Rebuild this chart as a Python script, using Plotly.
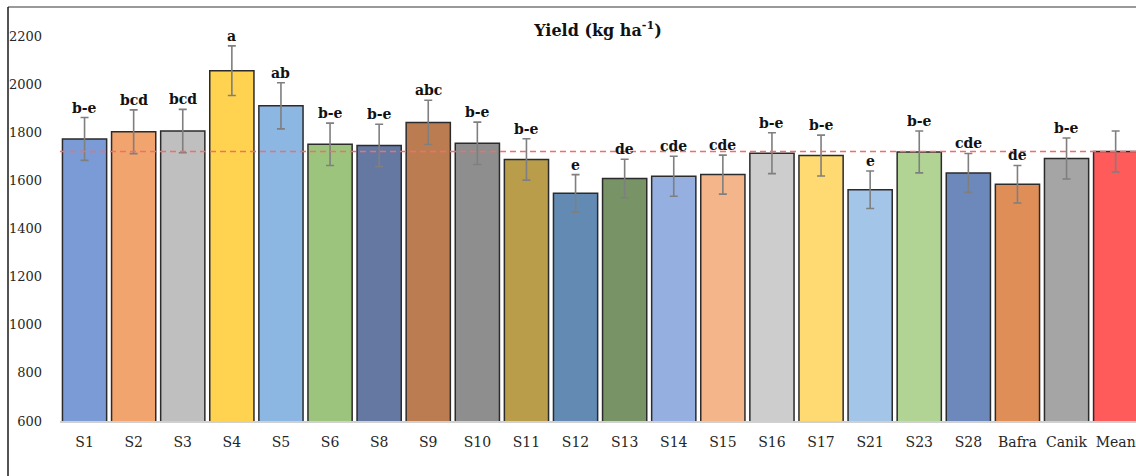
import plotly.graph_objects as go

# Genotype yields (kg/ha) with standard errors and significance letters
categories = ["S1", "S2", "S3", "S4", "S5", "S6", "S8", "S9", "S10", "S11", "S12",
              "S13", "S14", "S15", "S16", "S17", "S21", "S23", "S28", "Bafra", "Canik", "Mean"]
yield_values = [1772, 1802, 1805, 2056, 1910, 1750, 1745, 1841, 1754, 1687, 1546,
                1608, 1617, 1624, 1713, 1703, 1561, 1718, 1631, 1584, 1691, 1720]
yield_errors = [89, 91, 90, 103, 96, 88, 88, 92, 88, 86, 78,
                80, 83, 81, 85, 85, 78, 87, 81, 78, 85, 85]
letters = ["b-e", "bcd", "bcd", "a", "ab", "b-e", "b-e", "abc", "b-e", "b-e", "e",
           "de", "cde", "cde", "b-e", "b-e", "e", "b-e", "cde", "de", "b-e", ""]
bar_colors = ["#7A9BD6", "#F2A46E", "#BFBFBF", "#FFD34F", "#8DB7E3", "#9CC47C", "#6578A1",
              "#BC7C51", "#8E8E8E", "#B99D4B", "#628AB3", "#789466", "#95B0E0", "#F5B58B",
              "#CDCDCD", "#FFDA72", "#A3C6E8", "#B1D495", "#6D89BC", "#DF8E58", "#A5A5A5",
              "#FF5B5B"]
y_ticks = [600, 800, 1000, 1200, 1400, 1600, 1800, 2000, 2200]

W, H = 1136, 476
ML, MR, MT, MB = 60, 0, 36, 55
plot_w = W - ML - MR
plot_h = H - MT - MB
slot_px = 49.1  # horizontal space per category

serif = "DejaVu Serif"

fig = go.Figure()
fig.add_trace(go.Bar(
    x=categories,
    y=yield_values,
    marker=dict(color=bar_colors, line=dict(color="#2b2b2b", width=1.5)),
    error_y=dict(type="data", array=yield_errors, visible=True,
                 color="#7f7f7f", thickness=1.6, width=4),
    width=0.9,
    showlegend=False,
))

# significance letters above the error bars
for cat, v, e, lab in zip(categories, yield_values, yield_errors, letters):
    if lab:
        fig.add_annotation(x=cat, y=v + e, text="<b>%s</b>" % lab, showarrow=False,
                           yanchor="middle", yshift=10,
                           font=dict(family=serif, size=14, color="#111111"))

# dashed reference line at the overall mean
mean_value = yield_values[categories.index("Mean")]
fig.add_shape(type="line", xref="paper", yref="y", x0=0, x1=1,
              y0=mean_value, y1=mean_value, layer="above",
              line=dict(color="#F26E6E", width=1.4, dash="6px,4px"))


def px_to_paper_x(px):
    return (px - ML) / plot_w


def px_to_paper_y(py):
    return (H - MB - py) / plot_h


# outer frame (top and left edges)
fig.add_shape(type="line", xref="paper", yref="paper",
              x0=px_to_paper_x(8), x1=px_to_paper_x(W + 5),
              y0=px_to_paper_y(7), y1=px_to_paper_y(7),
              line=dict(color="#777777", width=1.5))
fig.add_shape(type="line", xref="paper", yref="paper",
              x0=px_to_paper_x(8), x1=px_to_paper_x(8),
              y0=px_to_paper_y(7), y1=px_to_paper_y(H + 5),
              line=dict(color="#1a1a1a", width=1.5))

fig.update_layout(
    width=W, height=H,
    margin=dict(l=ML, r=MR, t=MT, b=MB, pad=0),
    paper_bgcolor="white", plot_bgcolor="white",
    font=dict(family=serif),
    title=dict(text="<b>Yield (kg ha<sup>-1</sup>)</b>", x=0.5, xref="paper",
               xanchor="center", y=1 - 30 / H, yanchor="middle",
               font=dict(family=serif, size=16, color="#111111")),
    xaxis=dict(range=[-0.5, -0.5 + plot_w / slot_px], showgrid=False, zeroline=False,
               showline=True, linecolor="#D0D0D0", linewidth=2, ticks="",
               tickfont=dict(family=serif, size=14, color="#262626"),
               ticklabelstandoff=7),
    yaxis=dict(range=[600, 2200], tickvals=y_ticks, showgrid=False, zeroline=False,
               showline=False, ticks="",
               tickfont=dict(family=serif, size=13, color="#262626"),
               ticklabelstandoff=17),
    bargap=0.1,
)

fig.write_html("out.html")
